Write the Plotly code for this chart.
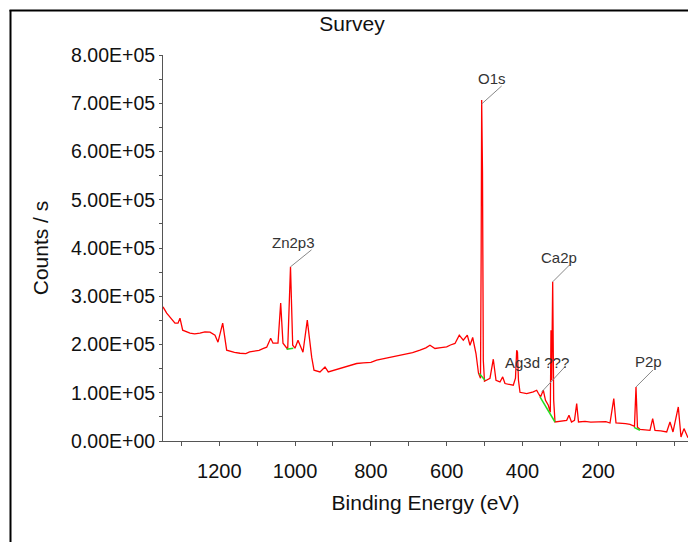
import plotly.graph_objects as go

# Survey spectrum (binding energy in eV, counts / s)
be = [1348.5, 1338.8, 1316.9, 1308.9, 1303.7, 1296.6, 1277.3, 1265.0, 1251.0, 1238.0,
      1224.5, 1211.3, 1203.4, 1191.0, 1180.5, 1170.0, 1160.0, 1145.4, 1130.0, 1120.0,
      1111.1, 1095.0, 1085.0, 1074.9, 1064.4, 1058.3, 1045.1, 1038.0,
      1031.9, 1019.5, 1012.1, 1006.3, 1000.3, 992.3, 979.2, 967.8, 956.2, 950.1,
      934.3, 921.1, 912.4, 900.0, 890.0, 881.5, 865.0, 850.0, 837.5, 820.0,
      800.0, 784.7, 770.0, 755.0, 740.9, 725.0, 715.0, 705.5, 690.0, 670.4,
      655.0, 644.1, 630.9, 615.0, 600.0, 590.0, 578.1, 566.8, 556.2, 545.6,
      538.5, 531.4, 522.7, 516.1,
      510.8, 509.0, 507.7, 505.5, 503.4, 500.3, 485.8, 477.0, 469.9, 459.4,
      452.2, 446.2, 424.3, 418.5, 415.3, 413.2, 410.6, 406.6, 388.9, 371.5,
      362.5, 358.3, 352.5, 345.1, 339.3, 331.9, 326.6, 324.8, 323.0, 320.3,
      317.7, 314.2, 283.4, 277.3, 270.7, 262.8, 257.0, 252.2, 235.0, 220.0,
      204.2, 190.0, 180.0, 169.1,
      159.1, 153.3, 140.0, 128.0, 116.4, 104.5, 100.5, 96.6, 90.0, 78.0,
      63.6, 56.5, 50.4, 35.0,
      19.5, 10.8, 2.9, -11.1, -18.2, -26.1, -36.7]
counts = [278000, 265000, 244200, 244200, 254600, 229700, 223400, 222000, 223400, 226000,
          225500, 219300, 204800, 244200, 188200, 185500, 183500, 181900, 181000, 184500,
          186100, 188000, 191500, 194400, 213100, 202700, 202700, 285700,
          202700, 190200, 361000, 198500, 192300, 208900, 184000, 250400, 173700, 146700,
          143200, 153500, 143200, 146000, 149000, 150200, 153500, 156500, 160600, 162000,
          163000, 167400, 170000, 171500, 174300, 177500, 179000, 181300, 183000, 188200,
          193000, 198500, 191700, 193500, 195000, 199000, 202100, 219300, 208900, 219300,
          198500, 214500, 181300, 140500,
          130100, 395600, 706800, 557500, 167400, 123900, 130100, 169500, 125900, 122400,
          132800, 119100, 115600, 130100, 188200, 184000, 125900, 101000, 98300, 101700,
          105200, 99000, 91300, 105200, 84400, 74100, 59500, 229700, 125900, 329900,
          84400, 39400, 42900, 53300, 39400, 42900, 77600, 39400, 40500, 39000,
          39400, 38500, 40000, 37300,
          88000, 37300, 37000, 36000, 34600, 30500, 112000, 28400, 24300, 23500,
          22200, 46500, 22200, 21000,
          18700, 39400, 18700, 70500, 8300, 25700, 6600]

# Background (baseline) segments under the quantified peaks
bg_be = [[1022.2, 1004.7], [514.0, 499.0], [353.8, 314.2], [105.8, 90.0]]
bg_counts = [[190200, 192300], [139800, 125900], [91300, 39400], [28400, 22200]]

# Peak labels
peak_labels = ["Zn2p3", "O1s", "Ag3d ???", "Ca2p", "P2p"]
peak_be = [1012.1, 507.7, 349.3, 320.3, 100.5]
peak_counts = [361000, 706800, 101700, 329900, 112000]

y_ticks = [0, 100000, 200000, 300000, 400000, 500000, 600000, 700000, 800000]
y_ticktext = ["0.00E+00", "1.00E+05", "2.00E+05", "3.00E+05", "4.00E+05",
              "5.00E+05", "6.00E+05", "7.00E+05", "8.00E+05"]
x_ticks = [1200, 1000, 800, 600, 400, 200]

FONT = "Liberation Sans, Arial, sans-serif"

fig = go.Figure()
fig.add_trace(go.Scatter(x=be, y=counts, mode="lines",
                         line=dict(color="#ff0000", width=1.3), hoverinfo="skip"))
for bx, by in zip(bg_be, bg_counts):
    fig.add_trace(go.Scatter(x=bx, y=by, mode="lines",
                             line=dict(color="#22dd22", width=1.5), hoverinfo="skip"))

# label placement (pixel offsets) and leader lines
text_shift = [(3, 24), (10, 21), (-5, 29), (6, 24), (12, 25)]
leader = [(0, 0, 21, 17), (0, -4, 20, 14), (0, 0, 24, 26), (0, 0, 17, 17), (0, 0, 17, 17)]

shapes = []
annotations = []
for lab, px, py, (xs, ys), (a0, b0, a1, b1) in zip(peak_labels, peak_be, peak_counts,
                                                    text_shift, leader):
    shapes.append(dict(type="line", xref="x", yref="y", xsizemode="pixel", ysizemode="pixel",
                       xanchor=px, yanchor=py, x0=a0, y0=b0, x1=a1, y1=b1,
                       line=dict(color="#888888", width=1)))
    annotations.append(dict(x=px, y=py, xref="x", yref="y", text=lab, showarrow=False,
                            xshift=xs, yshift=ys,
                            font=dict(family=FONT, size=15, color="#333333")))

# outer frame (left and top edges of the cropped screenshot)
L, W, T, H = 163, 525, 55, 385.7
def fx(p):
    return (p - L) / W
def fy(p):
    return (T + H - p) / H
shapes.append(dict(type="line", xref="paper", yref="paper", x0=fx(10.5), x1=fx(10.5),
                   y0=fy(10), y1=fy(545), line=dict(color="black", width=2)))
shapes.append(dict(type="line", xref="paper", yref="paper", x0=fx(9.5), x1=fx(700),
                   y0=fy(10.5), y1=fy(10.5), line=dict(color="black", width=2)))

fig.update_layout(
    width=688, height=542,
    margin=dict(l=L, r=0, t=T, b=542 - T - H),
    paper_bgcolor="white", plot_bgcolor="white",
    showlegend=False,
    font=dict(family=FONT, color="#111111"),
    title=dict(text="Survey", x=352 / 688, xref="container", xanchor="center",
               y=1 - 24 / 542, yref="container", yanchor="middle",
               font=dict(family=FONT, size=21, color="#111111")),
    shapes=shapes,
    annotations=annotations,
)
fig.update_xaxes(range=[1348.5, -36.7], showgrid=False, zeroline=False,
                 showline=True, linecolor="#555555", linewidth=1,
                 ticks="outside", ticklen=4, tickcolor="#555555",
                 tickvals=x_ticks, ticktext=[str(v) for v in x_ticks],
                 minor=dict(dtick=100, tick0=0, ticks="outside", ticklen=4, tickcolor="#555555"),
                 tickfont=dict(family=FONT, size=20, color="#111111"),
                 ticklabelstandoff=8,
                 title=dict(text="Binding Energy (eV)", standoff=14,
                            font=dict(family=FONT, size=21, color="#111111")))
fig.update_yaxes(range=[0, 800000], showgrid=False, zeroline=False,
                 showline=True, linecolor="#555555", linewidth=1,
                 ticks="outside", ticklen=3, tickcolor="#555555",
                 tickvals=y_ticks, ticktext=y_ticktext,
                 minor=dict(dtick=50000, tick0=0, ticks="outside", ticklen=3, tickcolor="#555555"),
                 tickfont=dict(family=FONT, size=19.5, color="#111111"),
                 ticklabelstandoff=0,
                 title=dict(text="Counts / s", standoff=16,
                            font=dict(family=FONT, size=21, color="#111111")))

fig.write_html("out.html")
